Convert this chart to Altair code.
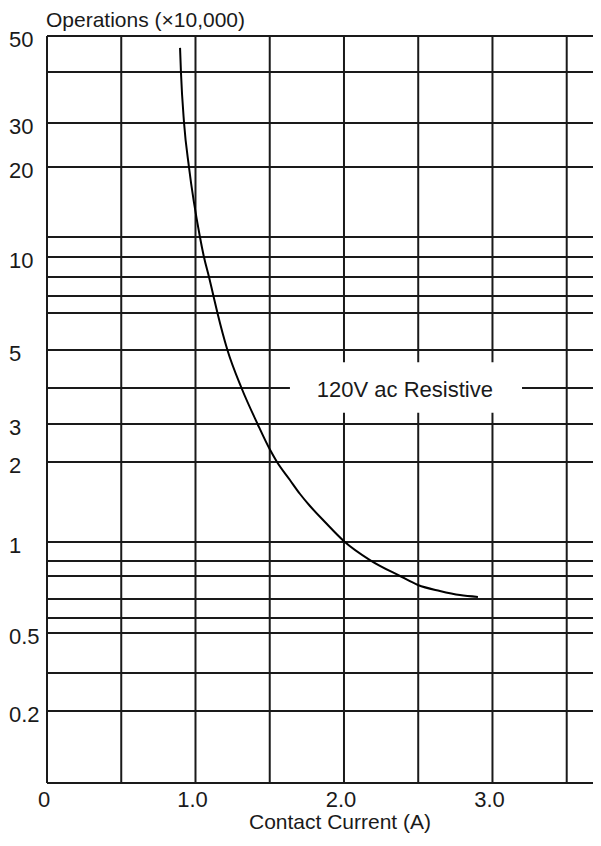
import altair as alt
import pandas as pd

# ---- data ----
curve_current = [0.896, 0.902, 0.923, 0.956, 1.030, 1.057, 1.091, 1.121, 1.148,
                 1.215, 1.310, 1.418, 1.502, 1.549, 1.636, 1.704, 1.771, 1.872,
                 2.0, 2.175, 2.377, 2.498, 2.646, 2.781, 2.902]
curve_ops = [46.7, 40, 30, 20, 12, 10, 9, 8, 7,
             5, 4, 3, 2.32, 2, 1.775, 1.6, 1.45, 1.25,
             1.01, 0.905, 0.8, 0.761, 0.735, 0.717, 0.709]

grid_ops = [0.1, 0.2, 0.3, 0.5, 0.6, 0.7, 0.8, 0.9, 1, 2, 3, 4, 5, 7, 8, 9, 10, 12, 20, 30, 40, 50]
grid_current = [0, 0.5, 1.0, 1.5, 2.0, 2.5, 3.0, 3.5]

y_label_values = [50, 30, 20, 10, 5, 3, 2, 1, 0.5, 0.2]
y_label_text = ["50", "30", "20", "10", "5", "3", "2", "1", "0.5", "0.2"]
x_label_values = [0, 1, 2, 3]
x_label_text = ["0", "1.0", "2.0", "3.0"]

y_title = "Operations (×10,000)"
x_title = "Contact Current (A)"
series_label = "120V ac Resistive"

# ---- layout of the chart's own (non-uniform) vertical scale ----
PLOT_W = 546
PLOT_H = 747
X_MAX = 3.677
# pixel position (from top of plot) of each grid value on the printed chart
scale_px = [747, 675, 637, 597, 582, 563, 540, 525, 506, 426, 388, 352, 314, 277, 260,
            241, 221, 201, 131, 87, 36, 0]

yscale = alt.Scale(domain=grid_ops, range=scale_px, nice=False, zero=False)
xscale = alt.Scale(domain=[0, X_MAX], nice=False, zero=False)

FONT = "Liberation Sans"
FS = 22
INK = "#1a1a1a"

curve_df = pd.DataFrame({"current": curve_current, "ops": curve_ops})
hgrid_df = pd.DataFrame({"ops": grid_ops})
vgrid_df = pd.DataFrame({"current": grid_current})
ylab_df = pd.DataFrame({"v": y_label_values, "t": y_label_text})
xlab_df = pd.DataFrame({"v": x_label_values, "t": x_label_text})

hgrid = alt.Chart(hgrid_df).mark_rule(color=INK, strokeWidth=2).encode(
    y=alt.Y("ops:Q", scale=yscale, axis=None),
    x=alt.XDatum(0, scale=xscale, axis=None),
    x2=alt.X2Datum(X_MAX),
)

vgrid = alt.Chart(vgrid_df).mark_rule(color=INK, strokeWidth=2).encode(
    x=alt.X("current:Q", scale=xscale, axis=None),
    y=alt.YDatum(50, scale=yscale, axis=None),
    y2=alt.Y2Datum(0.1),
)

label_box = alt.Chart(pd.DataFrame({"a": [0]})).mark_rect(color="white").encode(
    x=alt.XDatum(1.636, axis=None), x2=alt.X2Datum(3.199),
    y=alt.YDatum(4.68, axis=None), y2=alt.Y2Datum(3.31),
)

label_text = alt.Chart(pd.DataFrame({"t": [series_label]})).mark_text(
    font=FONT, fontSize=FS, color=INK, baseline="middle", align="center", dy=2
).encode(
    x=alt.XDatum(2.41, axis=None), y=alt.YDatum(4, axis=None), text="t:N"
)

curve = alt.Chart(curve_df).mark_line(color="#000000", strokeWidth=2,
                                      interpolate="monotone").encode(
    x=alt.X("current:Q", scale=xscale, axis=None),
    y=alt.Y("ops:Q", scale=yscale, axis=None),
)

ylabels = alt.Chart(ylab_df).mark_text(
    font=FONT, fontSize=FS, color=INK, align="left", baseline="middle", dy=4
).encode(
    x=alt.value(-38), y=alt.Y("v:Q", scale=yscale, axis=None), text="t:N"
)

xlabels = alt.Chart(xlab_df).mark_text(
    font=FONT, fontSize=FS, color=INK, align="center", baseline="alphabetic", dx=-3
).encode(
    x=alt.X("v:Q", scale=xscale, axis=None), y=alt.value(PLOT_H + 24), text="t:N"
)

ytitle = alt.Chart(pd.DataFrame({"t": [y_title]})).mark_text(
    font=FONT, fontSize=21, color=INK, align="left", baseline="alphabetic"
).encode(x=alt.value(-1), y=alt.value(-9), text="t:N")

xtitle = alt.Chart(pd.DataFrame({"t": [x_title]})).mark_text(
    font=FONT, fontSize=21, color=INK, align="center", baseline="alphabetic"
).encode(x=alt.value(293), y=alt.value(PLOT_H + 46), text="t:N")

chart = alt.layer(hgrid, vgrid, label_box, label_text, curve,
                  ylabels, xlabels, ytitle, xtitle).properties(
    width=PLOT_W,
    height=PLOT_H,
    padding={"left": 39, "top": 28, "right": 0, "bottom": 50},
    autosize=alt.AutoSizeParams(type="none"),
    background="white",
).configure_view(stroke=None)

chart.save("out.html", embed_options={"renderer": "svg", "actions": False})
